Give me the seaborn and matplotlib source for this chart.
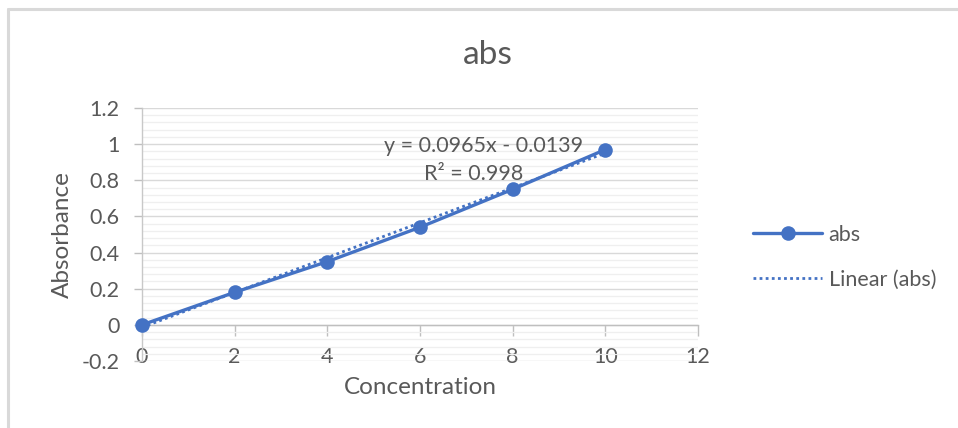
import matplotlib
matplotlib.use("Agg")
import matplotlib.pyplot as plt
from matplotlib.lines import Line2D
from matplotlib.ticker import MultipleLocator
import numpy as np
import pandas as pd
import seaborn as sns

# Calibration data
concentration = [0, 2, 4, 6, 8, 10]
absorbance = [0.0, 0.18, 0.35, 0.54, 0.75, 0.97]

# Linear trendline coefficients
slope = 0.0965
intercept = -0.0139
r_squared = 0.998

x_ticks = [0, 2, 4, 6, 8, 10, 12]
y_ticks = [-0.2, 0, 0.2, 0.4, 0.6, 0.8, 1.0, 1.2]
y_tick_labels = ["-0.2", "0", "0.2", "0.4", "0.6", "0.8", "1", "1.2"]

BLUE = "#4472C4"
TEXT = "#595959"

sns.set_theme(style="white")
plt.rcParams["font.family"] = ["Lato", "DejaVu Sans"]

fig = plt.figure(figsize=(9.58, 4.28), dpi=100)
ax = fig.add_axes([142 / 958, 1 - 361 / 428, 556 / 958, 253 / 428])

df = pd.DataFrame({"Concentration": concentration, "Absorbance": absorbance})
trend_x = np.array([concentration[0], concentration[-1]], dtype=float)
trend = pd.DataFrame({"x": trend_x, "y": slope * trend_x + intercept})

sns.lineplot(data=trend, x="x", y="y", ax=ax, color=BLUE, lw=2.0,
             linestyle=(0, (1, 1.2)), zorder=3)
sns.lineplot(data=df, x="Concentration", y="Absorbance", ax=ax, color=BLUE,
             lw=2.4, marker="o", markersize=10.5, markeredgewidth=0, zorder=4)
for ln in ax.lines:
    ln.set_clip_on(False)

ax.set_xlim(0, 12)
ax.set_ylim(-0.2, 1.2)
ax.set_xticks(x_ticks)
ax.set_xticklabels([str(v) for v in x_ticks])
ax.set_yticks(y_ticks)
ax.set_yticklabels(y_tick_labels)
ax.yaxis.set_minor_locator(MultipleLocator(0.04))

ax.grid(which="major", axis="y", color="#D9D9D9", lw=1.0, zorder=0)
ax.grid(which="minor", axis="y", color="#EFEFEF", lw=0.9, zorder=0)
ax.grid(which="major", axis="x", visible=False)
ax.set_axisbelow(True)

for side in ["top", "right"]:
    ax.spines[side].set_visible(False)
ax.spines["left"].set_color("#C8C8C8")
ax.spines["left"].set_linewidth(1.0)
ax.spines["bottom"].set_position(("data", 0))
ax.spines["bottom"].set_color("#BFBFBF")
ax.spines["bottom"].set_linewidth(1.0)

ax.tick_params(axis="x", which="major", direction="out", length=8, width=1.0,
               color="#BFBFBF", labelsize=15.5, labelcolor=TEXT, pad=8,
               bottom=True)
ax.tick_params(axis="y", which="major", direction="out", length=6, width=1.0,
               color="#BFBFBF", labelsize=15.5, labelcolor=TEXT, pad=10,
               left=True)
ax.tick_params(axis="y", which="minor", length=0)

ax.set_xlabel("Concentration", fontsize=17.5, color=TEXT)
ax.set_ylabel("Absorbance", fontsize=17.5, color=TEXT)
ax.xaxis.set_label_coords(0.5, -0.065)
ax.yaxis.set_label_coords(-0.125, 0.5)
fig.text(488 / 958, 1 - 55 / 428, "abs", fontsize=24, color=TEXT,
         ha="center", va="center")

ax.text(7.38, 0.99, f"y = {slope:.4f}x - {abs(intercept):.4f}",
        fontsize=15.5, color=TEXT, ha="center", va="center")
ax.text(7.15, 0.835, f"R² = {r_squared:.3f}",
        fontsize=15.5, color=TEXT, ha="center", va="center")

handles = [
    Line2D([], [], color=BLUE, lw=2.4, marker="o", markersize=10.5,
           markeredgewidth=0),
    Line2D([], [], color=BLUE, lw=2.0, linestyle=(0, (1, 1.2))),
]
fig.legend(handles, ["abs", "Linear (abs)"], loc="center left",
           bbox_to_anchor=(734 / 958, 1 - 257 / 428), frameon=False,
           fontsize=15.5, labelcolor=TEXT, handlelength=3.2, handletextpad=0.3,
           labelspacing=1.15)

# Chart-area border on the left and top edges
border = "#D9D9D9"
fig.add_artist(Line2D([8 / 958, 8 / 958], [0, 1 - 9 / 428],
                      transform=fig.transFigure, color=border, lw=2.2))
fig.add_artist(Line2D([8 / 958, 1], [1 - 9 / 428, 1 - 9 / 428],
                      transform=fig.transFigure, color=border, lw=2.2))

fig.savefig("out.png", dpi=100, facecolor="white")
